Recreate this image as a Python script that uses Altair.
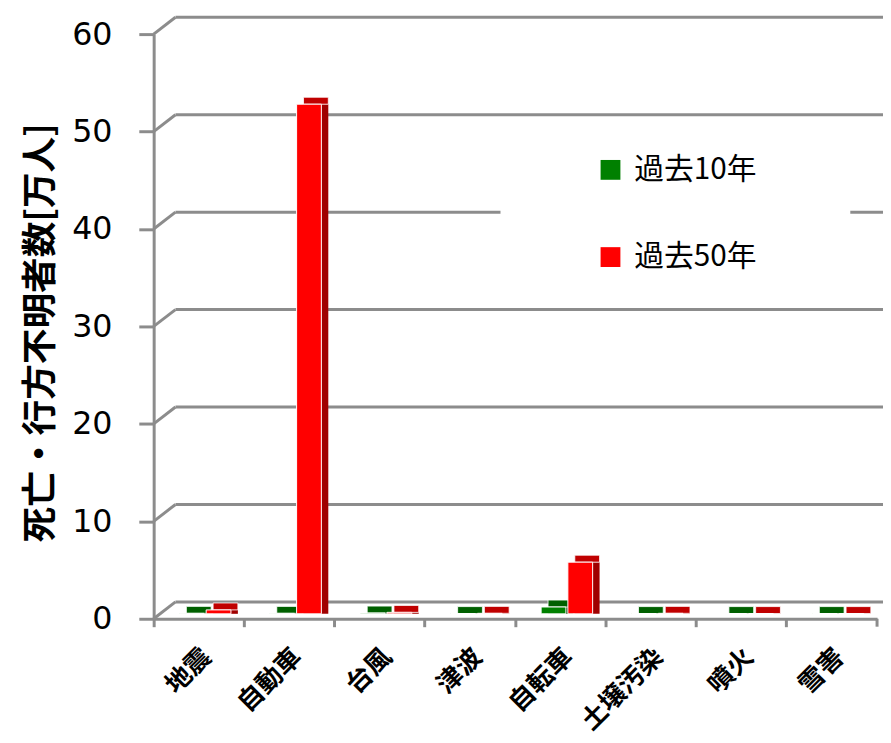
import altair as alt
import pandas as pd

categories = ["地震", "自動車", "台風", "津波", "自転車", "土壌汚染", "噴火", "雪害"]
series = ["過去10年", "過去50年"]
past10 = [0.05, 0.05, 0.08, 0.03, 0.7, 0.03, 0.03, 0.03]
past50 = [0.4, 52.3, 0.15, 0.05, 5.3, 0.05, 0.03, 0.03]
y_ticks = [0, 10, 20, 30, 40, 50, 60]

rows = []
for c, a, b in zip(categories, past10, past50):
    rows.append({"cat": c, "series": series[0], "value": a})
    rows.append({"cat": c, "series": series[1], "value": b})
df = pd.DataFrame(rows)
grid_df = pd.DataFrame({"value": y_ticks})

GRAY = "#8c8c8c"
W, H = 730, 590
DEPTH = 7

y_axis = alt.Axis(
    title="死亡・行方不明者数[万人]", titleFont="Noto Sans CJK JP", titleFontSize=36,
    titleFontWeight="bold", titleColor="black", titleAngle=-90, titleX=-114, titleY=301,
    titleAlign="center", titleBaseline="middle",
    values=y_ticks, labelFont="DejaVu Sans", labelFontSize=32, labelColor="black",
    labelPadding=27, tickSize=15, tickWidth=3, tickColor=GRAY,
    domainColor=GRAY, domainWidth=3, grid=False,
)
x_axis = alt.Axis(
    title=None, labelAngle=-45, labelAlign="right", labelBaseline="middle",
    labelFont="Noto Sans CJK JP", labelFontSize=26, labelFontWeight="bold", labelColor="black",
    labelPadding=26, labelOffset=8, bandPosition=0, tickSize=8, tickWidth=3,
    tickColor=GRAY, domainColor=GRAY, domainWidth=3, grid=False,
)

y_enc = alt.Y("value:Q", scale=alt.Scale(domain=[0, 60], nice=False), axis=y_axis)
xo_scale = alt.Scale(paddingInner=0.074, paddingOuter=0.727, align=0.662)


def x_enc(shift, axis):
    return alt.X("cat:N", sort=categories,
                 scale=alt.Scale(paddingInner=0, paddingOuter=0, range=[shift, W + shift]),
                 axis=axis)


xo_enc = alt.XOffset("series:N", sort=series, scale=xo_scale)

grid_diag = alt.Chart(grid_df).mark_rule(color=GRAY, strokeWidth=3, y2Offset=-17).encode(
    x=alt.value(0), x2=alt.value(22), y=y_enc, y2="value:Q")
grid_lines = alt.Chart(grid_df).mark_rule(color=GRAY, strokeWidth=3, yOffset=-17).encode(
    x=alt.value(22), x2=alt.value(736), y=y_enc)
mask = alt.Chart(pd.DataFrame({"a": [0]})).mark_rect(color="white").encode(
    x=alt.value(350), x2=alt.value(703), y=alt.value(87), y2=alt.value(273))

side = alt.Chart(df).mark_bar(yOffset=-5, y2Offset=-5 - DEPTH).encode(
    x=x_enc(DEPTH, None), xOffset=xo_enc, y=y_enc,
    color=alt.Color("series:N", sort=series,
                    scale=alt.Scale(domain=series, range=["#004400", "#a00000"]), legend=None))
top = alt.Chart(df).mark_bar(yOffset=-5 - DEPTH, y2Offset=-5, stroke="white", strokeWidth=0.8).encode(
    x=x_enc(DEPTH, None), xOffset=xo_enc, y=y_enc, y2="value:Q",
    color=alt.Color("series:N", sort=series,
                    scale=alt.Scale(domain=series, range=["#006000", "#c00000"]), legend=None))
front = alt.Chart(df).mark_bar(yOffset=-5, y2Offset=-5, stroke="white", strokeWidth=1).encode(
    x=x_enc(0, x_axis), xOffset=xo_enc, y=y_enc,
    color=alt.Color("series:N", sort=series,
                    scale=alt.Scale(domain=series, range=["#008000", "#ff0000"]),
                    legend=alt.Legend(title=None, orient="none", legendX=446, legendY=122, padding=0,
                                      symbolType="square", symbolSize=400, symbolStrokeWidth=0,
                                      labelFont="Noto Sans CJK JP", labelFontSize=30, labelColor="black",
                                      labelOffset=9, rowPadding=58)))
last_tick = alt.Chart(pd.DataFrame({"a": [0]})).mark_rule(color=GRAY, strokeWidth=3).encode(
    x=alt.value(W), y=alt.value(H), y2=alt.value(H + 8))

chart = alt.layer(grid_diag, grid_lines, mask, side, top, front, last_tick).resolve_scale(
    color="independent", x="independent", xOffset="independent"
).properties(
    width=W, height=H, autosize=alt.AutoSizeParams(type="none"),
    padding={"left": 147, "top": 23, "right": 6, "bottom": 120},
    background="white",
).configure_view(stroke=None)

chart.save("out.html", embed_options={"renderer": "svg", "actions": False})
